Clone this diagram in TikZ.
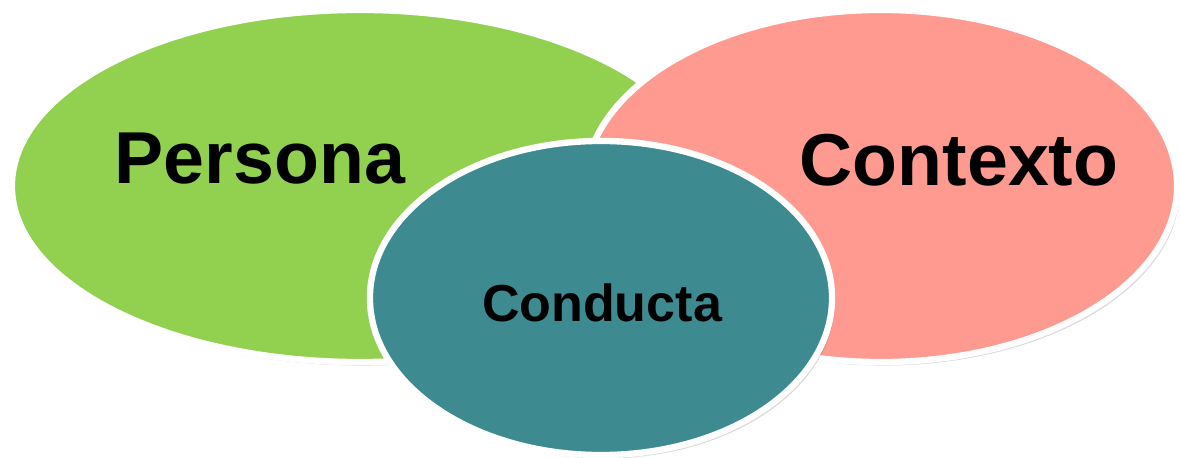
\documentclass[tikz,border=0pt]{standalone}
\usepackage{fontspec}
\setmainfont{Liberation Sans}
\usepackage{xcolor}
\usepackage{tikz}
\usetikzlibrary{positioning,shapes.geometric,shadows}
\definecolor{personagreen}{RGB}{146,208,80}
\definecolor{contextopink}{RGB}{255,154,144}
\definecolor{conductateal}{RGB}{61,139,145}
\tikzset{
  blob/.style={ellipse, draw=white, line width=4.5pt, inner sep=0pt,
    drop shadow={shadow xshift=2pt, shadow yshift=-2.5pt, opacity=0.25, fill=black!60}},
  every node/.style={anchor=center}
}

\begin{document}
\begin{tikzpicture}[
  x=0.025cm, y=-0.025cm,
  bigtxt/.style={font=\fontsize{52.3}{60}\selectfont\bfseries, inner sep=0pt},
  smalltxt/.style={font=\fontsize{37}{44}\selectfont\bfseries, inner sep=0pt}
]
\useasboundingbox (0,0) rectangle (1180,458);
% the three ellipses
\node[blob, fill=personagreen, minimum width=17.4cm, minimum height=8.8cm] (persona) at (360,186) {};
\node[blob, fill=contextopink, minimum width=14.8cm, minimum height=8.8cm] (contexto) at (881,186) {};
\node[blob, fill=conductateal, minimum width=11.55cm, minimum height=7.85cm] (conducta) at (601,298) {};
% labels
\node[bigtxt] (personalbl) at (260,159) {Persona};
\node[bigtxt] (contextolbl) at (959,160) {Contexto};
\node[smalltxt] (conductalbl) at (602,303) {Conducta};
\end{tikzpicture}
\end{document}
